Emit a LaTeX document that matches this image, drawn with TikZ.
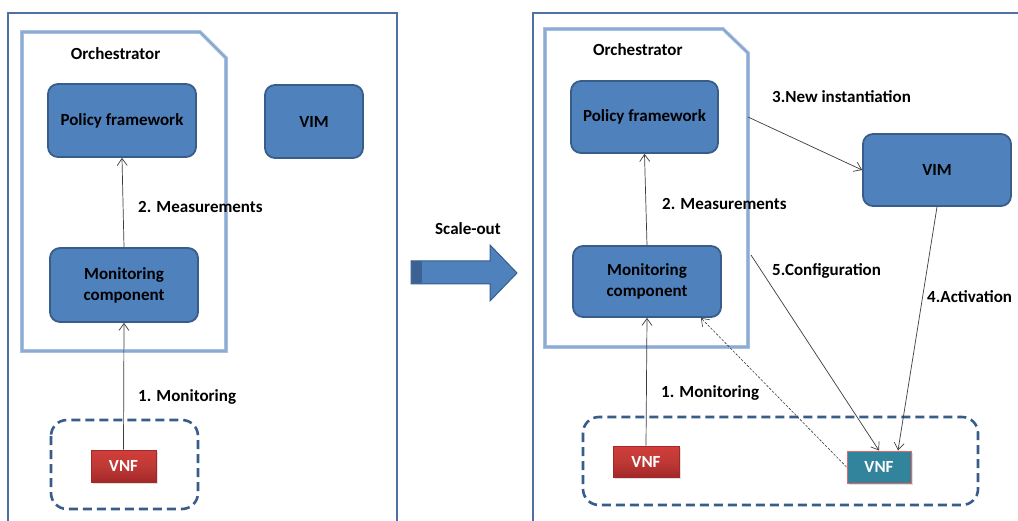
\documentclass[tikz,border=0pt]{standalone}
\usepackage{fontspec}
\setmainfont{Carlito}
\usetikzlibrary{arrows.meta,shadows,calc}

\definecolor{framecol}{RGB}{78,112,163}
\definecolor{orchline}{RGB}{168,192,224}
\definecolor{orchcore}{RGB}{128,160,206}
\definecolor{boxfill}{RGB}{79,129,189}
\definecolor{boxline}{RGB}{56,93,138}
\definecolor{vnfred}{RGB}{208,62,58}
\definecolor{vnfdark}{RGB}{163,40,40}
\definecolor{vnfteal}{RGB}{49,132,155}
\definecolor{tealborder}{RGB}{226,104,104}
\definecolor{arrowcol}{RGB}{60,60,60}
\definecolor{stripecol}{RGB}{60,98,148}

\tikzset{
  txt/.style={font=\fontsize{17}{21}\selectfont\bfseries},
  bluebox/.style={txt, draw=boxline, fill=boxfill, line width=1.8pt,
    rounded corners=10pt, inner sep=0pt, align=center},
  vnfbox/.style={txt, text=white, inner sep=0pt,
    drop shadow={opacity=0.25, shadow xshift=1.5pt, shadow yshift=-1.5pt}},
  redvnf/.style={vnfbox, draw=vnfdark, line width=0.6pt,
    top color=vnfred, bottom color=vnfdark, middle color=vnfred!92!black},
  tealvnf/.style={vnfbox, draw=tealborder, fill=vnfteal, line width=1pt},
  groupbox/.style={draw=boxline, dashed, dash pattern=on 9pt off 5pt,
    line width=2.6pt, rounded corners=16pt},
  orchframe/.style={draw=orchline, line width=3.6pt, fill=white,
    drop shadow={opacity=0.2, shadow xshift=2pt, shadow yshift=-2pt}},
  orchcoreline/.style={draw=orchcore, line width=1.3pt},
  outerframe/.style={draw=framecol, line width=1.3pt},
  flow/.style={draw=arrowcol, line width=0.7pt,
    -{Straight Barb[length=7pt,width=10pt]}},
  lbl/.style={txt, anchor=base west, inner sep=0pt},
}

\begin{document}
\begin{tikzpicture}[x=1pt, y=-1pt]
\useasboundingbox (0,0) rectangle (1018,521);
\fill[white] (0,0) rectangle (1018,521);
\clip (0,0) rectangle (1018,521);

% ---- outer frames of the two situations ----
\draw[outerframe] (8,13) rectangle (397,540);
\draw[outerframe] (533,13) rectangle (1040,540);

% ================= before scaling =================
\draw[orchframe] (22,32) -- (200,32) -- (226,58) -- (226,351) -- (22,351) -- cycle;
\draw[orchcoreline] (22,32) -- (200,32) -- (226,58) -- (226,351) -- (22,351) -- cycle;
\node[lbl] (orchL) at (70.7,60) {Orchestrator};

\node[bluebox, minimum width=148pt, minimum height=73pt] (polL) at (122,120.5) {Policy framework};
\node[bluebox, minimum width=98pt, minimum height=73pt] (vimL) at (314,121.5) {VIM};
\node[bluebox, minimum width=148pt, minimum height=74pt] (monL) at (124,285) {Monitoring\\component};

\draw[groupbox] (51,420) rectangle (198,509);
\node[redvnf, minimum width=65pt, minimum height=32pt] (vnfL) at (123.5,466) {VNF};

\draw[flow] (monL.north) -- (polL.south);
\draw[flow] (vnfL.north) -- (monL.south);
\node[lbl] (measL) at (138,212.7) {2. Measurements};
\node[lbl] (monitL) at (138,401.7) {1. Monitoring};

% ================= scale-out transition =================
\node[lbl] (scale) at (435,235) {Scale-out};
\fill[boxfill, draw=boxline, line width=1pt]
  (411,261) -- (490,261) -- (490,245) -- (517,273) -- (490,301) -- (490,284) -- (411,284) -- cycle;
\fill[stripecol] (411.5,261.5) rectangle (422,283.5);

% ================= after scaling =================
\draw[orchframe] (545,29) -- (723,29) -- (748,53) -- (748,347) -- (545,347) -- cycle;
\draw[orchcoreline] (545,29) -- (723,29) -- (748,53) -- (748,347) -- (545,347) -- cycle;
\node[lbl] (orchR) at (593,56) {Orchestrator};

\node[bluebox, minimum width=147pt, minimum height=72pt] (polR) at (644.5,117) {Policy framework};
\node[bluebox, minimum width=148pt, minimum height=72pt] (vimR) at (937,170) {VIM};
\node[bluebox, minimum width=148pt, minimum height=71pt] (monR) at (647,281.5) {Monitoring\\component};

\draw[groupbox] (583,417) rectangle (978,505);
\node[redvnf, minimum width=66pt, minimum height=31pt] (vnfR1) at (646,461.5) {VNF};
\node[tealvnf, minimum width=64pt, minimum height=32pt] (vnfR2) at (879,467) {VNF};

\coordinate (instStart) at (748,117);
\coordinate (confStart) at (751,255);

\draw[flow] (vnfR1.north) -- (monR.south);
\draw[flow] (monR.north) -- (polR.south);
\draw[flow] (instStart) -- (vimR.west);
\draw[flow] (vimR.south) -- ([xshift=19pt]vnfR2.north);
\draw[flow] (confStart) -- (vnfR2.north);
\draw[flow, dashed, dash pattern=on 2.5pt off 1.5pt, line width=0.6pt]
  (vnfR2.west) -- ([xshift=-21pt]monR.south east);

\node[lbl] (instL) at (772,102.3) {3.New instantiation};
\node[lbl] (measR) at (662,209.3) {2. Measurements};
\node[lbl] (confL) at (772,275.7) {5.Configuration};
\node[lbl] (actL) at (927,302.7) {4.Activation};
\node[lbl] (monitR) at (661,397.3) {1. Monitoring};
\end{tikzpicture}
\end{document}
